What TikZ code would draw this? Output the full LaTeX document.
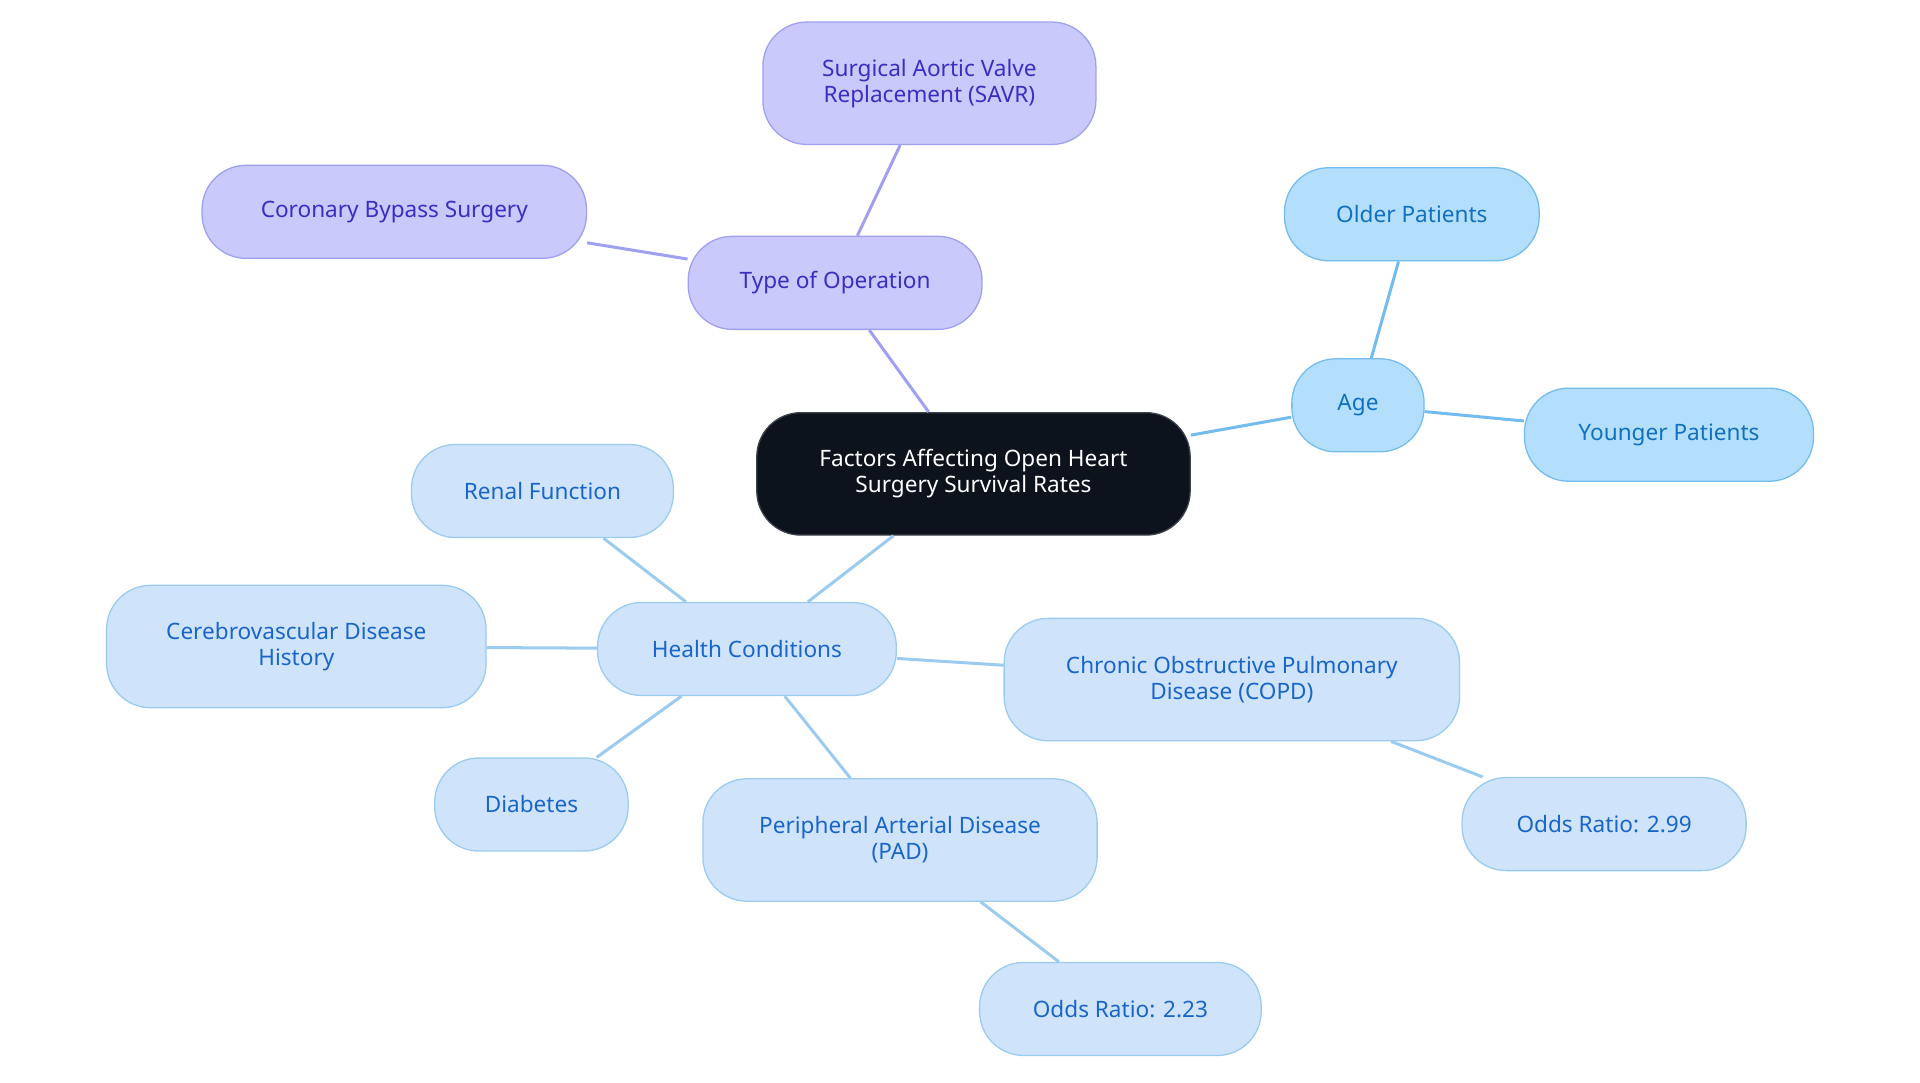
\documentclass[tikz,border=0pt]{standalone}
\usepackage{fontspec}
\setmainfont{Noto Sans}
\begin{document}
\begin{tikzpicture}[
                x=0.02cm, y=-0.02cm,
                box/.style={draw, rounded corners=0.72cm, align=center, line width=0.6pt,
                            minimum height=1.52cm, font=\fontsize{10.5}{12}\selectfont},
                root/.style={box, fill=rootbg, draw=rootbg!80!white, text=white},
                oper/.style={box, fill=operbg, draw=operln, text=opertx},
                age/.style={box, fill=agebg, draw=ageln, text=agetx},
                health/.style={box, fill=healthbg, draw=healthln, text=healthtx},
                link/.style={line width=1.4pt}
            ]
            \definecolor{rootbg}{HTML}{0D131D}
            \definecolor{operbg}{HTML}{C9C9FB}
            \definecolor{operln}{HTML}{A0A0F0}
            \definecolor{opertx}{HTML}{3A2FC0}
            \definecolor{agebg}{HTML}{B3DFFC}
            \definecolor{ageln}{HTML}{74BCEF}
            \definecolor{agetx}{HTML}{1170C0}
            \definecolor{healthbg}{HTML}{CFE3FB}
            \definecolor{healthln}{HTML}{9CCBF0}
            \definecolor{healthtx}{HTML}{1A66C8}
            \useasboundingbox (0,0) rectangle (1568,884);

            % Root
            \node[root, minimum width=7.08cm, minimum height=2cm] (factors) at (795,387) {Factors Affecting Open Heart\\Surgery Survival Rates};

            % Type of operation
            \node[oper, minimum width=4.8cm] (operation) at (682,231) {Type of Operation};
            \node[oper, minimum width=5.44cm, minimum height=2cm] (savr) at (759,68) {Surgical Aortic Valve\\Replacement (SAVR)};
            \node[oper, minimum width=6.28cm] (bypass) at (322,173) {Coronary Bypass Surgery};

            % Age
            \node[age, minimum width=2.16cm] (age) at (1109,331) {Age};
            \node[age, minimum width=4.16cm] (older) at (1153,175) {Older Patients};
            \node[age, minimum width=4.72cm] (younger) at (1363,355) {Younger Patients};

            % Health conditions
            \node[health, minimum width=4.88cm] (conditions) at (610,530) {Health Conditions};
            \node[health, minimum width=4.28cm] (renal) at (443,401) {Renal Function};
            \node[health, minimum width=6.2cm, minimum height=2cm] (cerebro) at (242,528) {Cerebrovascular Disease\\History};
            \node[health, minimum width=3.16cm] (diabetes) at (434,657) {Diabetes};
            \node[health, minimum width=6.44cm, minimum height=2cm] (pad) at (735,686) {Peripheral Arterial Disease\\(PAD)};
            \node[health, minimum width=4.6cm] (padodds) at (915,824) {Odds Ratio: 2.23};
            \node[health, minimum width=7.44cm, minimum height=2cm] (copd) at (1006,555) {Chronic Obstructive Pulmonary\\Disease (COPD)};
            \node[health, minimum width=4.64cm] (copdodds) at (1310,673) {Odds Ratio: 2.99};

            % Links
            \draw[link, operln] (factors) -- (operation);
            \draw[link, operln] (operation) -- (savr);
            \draw[link, operln] (operation) -- (bypass);
            \draw[link, ageln] (factors) -- (age);
            \draw[link, ageln] (age) -- (older);
            \draw[link, ageln] (age) -- (younger);
            \draw[link, healthln] (factors) -- (conditions);
            \foreach \leaf in {renal, cerebro, diabetes, pad, copd} { \draw[link, healthln] (conditions) -- (\leaf); }
            \draw[link, healthln] (pad) -- (padodds);
            \draw[link, healthln] (copd) -- (copdodds);
        \end{tikzpicture}
\end{document}
